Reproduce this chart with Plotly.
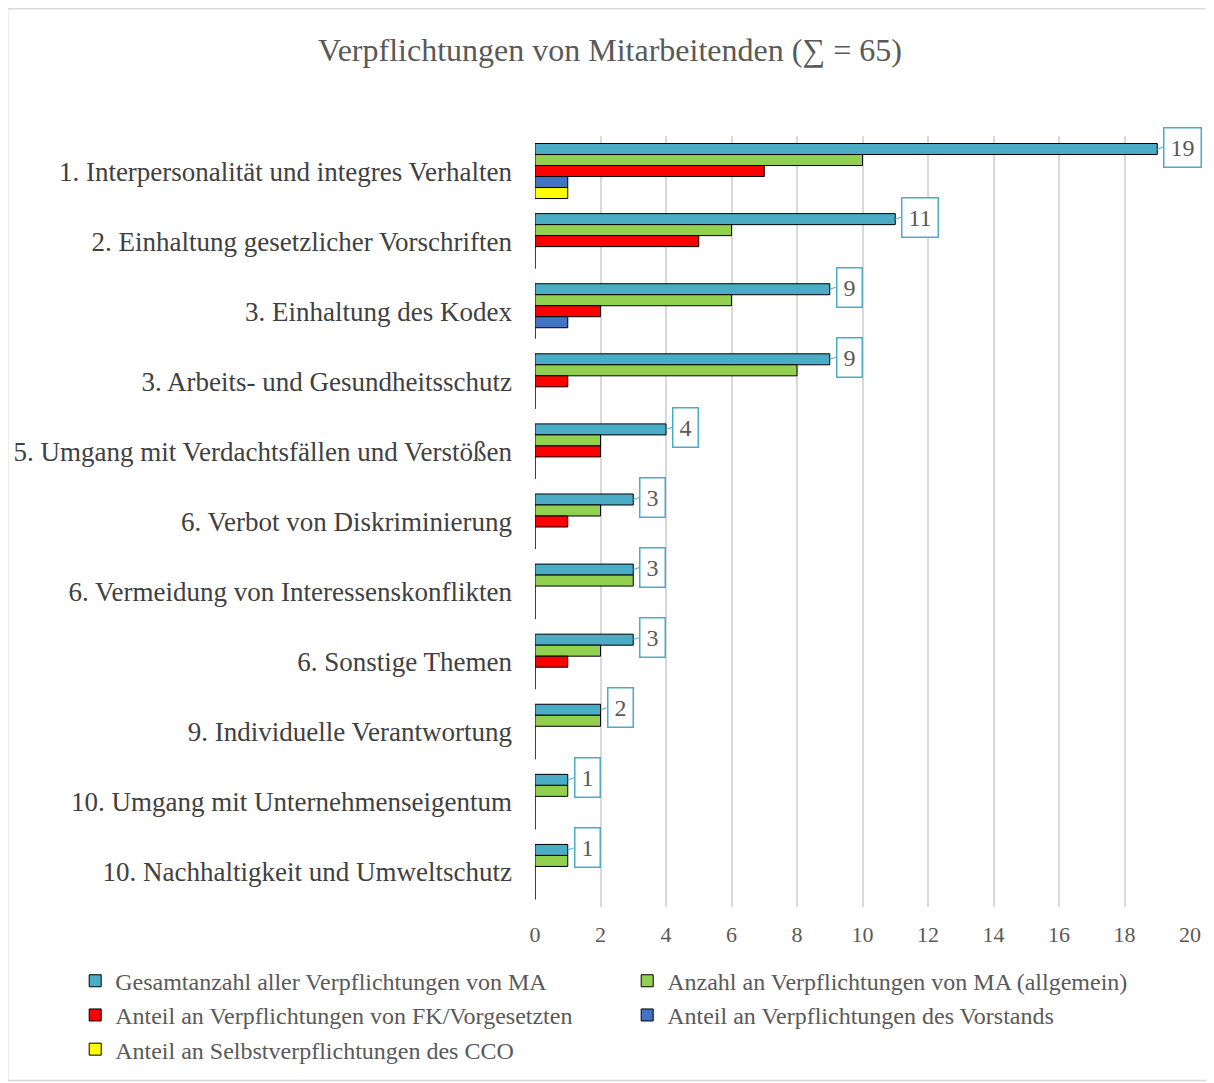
import plotly.graph_objects as go

# ── Data ──────────────────────────────────────────────────────────────────────

categories = [
    "1. Interpersonalität und integres Verhalten",
    "2. Einhaltung gesetzlicher Vorschriften",
    "3. Einhaltung des Kodex",
    "3. Arbeits- und Gesundheitsschutz",
    "5. Umgang mit Verdachtsfällen und Verstößen",
    "6. Verbot von Diskriminierung",
    "6. Vermeidung von Interessenskonflikten",
    "6. Sonstige Themen",
    "9. Individuelle Verantwortung",
    "10. Umgang mit Unternehmenseigentum",
    "10. Nachhaltigkeit und Umweltschutz",
]

gesamt = [19, 11, 9, 9, 4, 3, 3, 3, 2, 1, 1]
allgemein = [10, 6, 6, 8, 2, 2, 3, 2, 2, 1, 1]
fk_vorgesetzte = [7, 5, 2, 1, 2, 1, 0, 1, 0, 0, 0]
vorstand = [1, 0, 1, 0, 0, 0, 0, 0, 0, 0, 0]
cco = [1, 0, 0, 0, 0, 0, 0, 0, 0, 0, 0]

series_names = [
    "Gesamtanzahl aller Verpflichtungen von MA",
    "Anzahl an Verpflichtungen von MA (allgemein)",
    "Anteil an Verpflichtungen von FK/Vorgesetzten",
    "Anteil an Verpflichtungen des Vorstands",
    "Anteil an Selbstverpflichtungen des CCO",
]

x_ticks = list(range(0, 21, 2))

_COLORS = ["#4BACC6", "#92D050", "#FF0000", "#4472C4", "#FFFF00"]
_FONT = "Liberation Serif, Times New Roman, serif"
_TEXT = "#595959"

# page body has an 8px margin, so the figure is sized to fit inside it
W, H = 1206, 1075
BARGAP = 0.215

# ── Figure ────────────────────────────────────────────────────────────────────

fig = go.Figure()
for name, values, color in zip(
    series_names, [gesamt, allgemein, fk_vorgesetzte, vorstand, cco], _COLORS
):
    fig.add_trace(go.Bar(
        name=name,
        x=values,
        y=categories,
        orientation="h",
        marker=dict(color=color, line=dict(color="#000000", width=1)),
        hovertemplate="%{y}: %{x}<extra></extra>",
    ))

# boxed value labels on the total bars (top slot of each group)
n_series = len(series_names)
group_width = 1 - BARGAP
slot = group_width / n_series
for i, v in enumerate(gesamt):
    fig.add_annotation(
        x=v,
        y=i - group_width / 2 + slot / 2,
        text=str(v),
        showarrow=True,
        arrowhead=0,
        arrowwidth=1,
        arrowcolor="#4BACC6",
        ax=6,
        ay=-2,
        xanchor="left",
        yanchor="middle",
        standoff=0,
        font=dict(family=_FONT, size=24, color=_TEXT),
        bordercolor="#4BACC6",
        borderwidth=1.5,
        borderpad=6,
        bgcolor="white",
    )

# outer frame of the chart area
fig.add_shape(
    type="rect", xref="paper", yref="paper",
    x0=-0.805, x1=1.034, y0=-0.225, y1=1.165,
    line=dict(color="#d9d9d9", width=1.5),
    layer="below",
)

fig.update_layout(
    title=dict(
        text="Verpflichtungen von Mitarbeitenden (∑ = 65)",
        x=(610 - 8) / W, xref="container", xanchor="center",
        y=1 - 42 / H, yref="container", yanchor="middle",
        font=dict(family=_FONT, size=32, color=_TEXT),
    ),
    width=W,
    height=H,
    margin=dict(l=527, r=24, t=128, b=176, autoexpand=False),
    barmode="group",
    bargap=BARGAP,
    bargroupgap=0,
    plot_bgcolor="white",
    paper_bgcolor="white",
    font=dict(family=_FONT, color=_TEXT),
    showlegend=True,
    legend=dict(
        orientation="h",
        xref="paper", x=-0.702, xanchor="left",
        yref="paper", y=-0.067, yanchor="top",
        entrywidth=507, entrywidthmode="pixels",
        itemwidth=30,
        bgcolor="rgba(0,0,0,0)",
        font=dict(family=_FONT, size=24, color=_TEXT),
        tracegroupgap=0,
        traceorder="normal",
    ),
    xaxis=dict(
        range=[0, 20],
        tickvals=x_ticks,
        showgrid=True,
        gridcolor="#d9d9d9",
        gridwidth=1.5,
        zeroline=False,
        showline=False,
        ticks="",
        ticklabelstandoff=12,
        automargin=False,
        tickfont=dict(family=_FONT, size=22, color=_TEXT),
    ),
    yaxis=dict(
        # fixed band range so the label boxes do not stretch the axis
        range=[len(categories) - 0.5, -0.5],
        showgrid=False,
        zeroline=False,
        showline=False,
        ticks="",
        ticklabelstandoff=22,
        automargin=False,
        tickfont=dict(family=_FONT, size=27, color="#404040"),
    ),
)

fig.write_html("out.html")
